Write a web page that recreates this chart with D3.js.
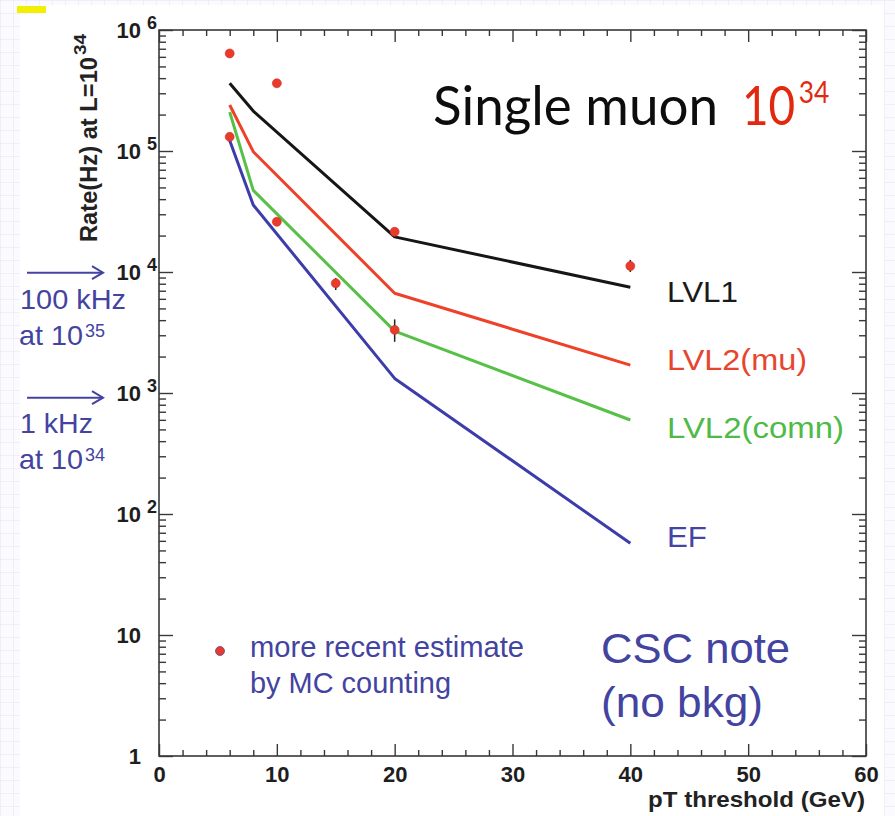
<!DOCTYPE html>
<html>
<head>
<meta charset="utf-8">
<script src="https://cdn.jsdelivr.net/npm/d3@7"></script>
<style>
  body { margin: 0; background: #fff; }
  svg { display: block; }
</style>
</head>
<body>
<svg id="chart" width="895" height="816"></svg>
<script>
// ---- data -------------------------------------------------------------
const xTickValues = [0, 10, 20, 30, 40, 50, 60];
const yDecades = [1, 10, 100, 1e3, 1e4, 1e5, 1e6];

// trigger-level rates (Hz) versus pT threshold (GeV)
const thresholds = [6, 8, 20, 40];
const rateLVL1 = [3.63e5, 2.14e5, 1.95e4, 7.48e3];
const rateLVL2mu = [2.40e5, 9.87e4, 6.67e3, 1.70e3];
const rateLVL2comn = [2.10e5, 4.73e4, 3.25e3, 598];
const rateEF = [1.22e5, 3.58e4, 1.32e3, 57.3];

const seriesNames = ["LVL1", "LVL2(mu)", "LVL2(comn)", "EF"];
const seriesColors = ["#161616", "#ee4128", "#56c146", "#3d3daa"];
const labelColors = ["#1a1a1a", "#e8452f", "#4fba48", "#4545a3"];

// newer estimates from MC counting, with error bars where shown
const estThreshold = [6, 6, 10, 10, 15, 20, 20, 40];
const estRate = [6.4e5, 1.31e5, 3.63e5, 2.6e4, 8.07e3, 2.15e4, 3.32e3, 1.12e4];
const estLow = [null, null, null, null, 7.1e3, null, 2.65e3, 1.0e4];
const estHigh = [null, null, null, null, 8.9e3, null, 4.06e3, 1.26e4];

// ---- layout -----------------------------------------------------------
const svg = d3.select("#chart");
const W = 895, H = 816;
const L = 159, R = 866, T = 30, B = 756;

const x = d3.scaleLinear().domain([0, 60]).range([L, R]);
const y = d3.scaleLog().domain([1, 1e6]).range([B, T]);

const axisColor = "#383838";
const axisFont = "'Liberation Sans', Arial, Helvetica, sans-serif";
const textFont = "'Liberation Sans', Arial, Helvetica, sans-serif";
const blueText = "#4343a0";

// slide background: faint graph-paper grid around the plot picture
const defs = svg.append("defs");
const pat = defs.append("pattern").attr("id", "paper")
  .attr("width", 13).attr("height", 13).attr("patternUnits", "userSpaceOnUse");
pat.append("path").attr("d", "M13 0 L0 0 L0 13").attr("fill", "none")
  .attr("stroke", "#e3e5ef").attr("stroke-width", 1);
svg.append("rect").attr("width", W).attr("height", H).attr("fill", "#fafaff");
svg.append("rect").attr("width", W).attr("height", H).attr("fill", "url(#paper)");
svg.append("rect").attr("x", 20).attr("y", 5).attr("width", 864).attr("height", H - 5).attr("fill", "#fff");
svg.append("rect").attr("x", 17).attr("y", 6).attr("width", 29).attr("height", 7).attr("fill", "#f3ef00");

// ---- axes -------------------------------------------------------------
function drawAxis(gen, transform) {
  const g = svg.append("g").attr("transform", transform).call(gen);
  g.select(".domain").remove();
  g.selectAll("line").attr("stroke", axisColor).attr("stroke-width", 1.4);
  return g;
}

const xMinor = d3.range(0, 61, 2).filter(v => v % 10 !== 0);
const yMinor = [];
for (let k = 0; k < 6; k++) for (let m = 2; m <= 9; m++) yMinor.push(m * Math.pow(10, k));

const gx = drawAxis(d3.axisBottom(x).tickValues(xTickValues).tickSize(-12).tickPadding(10)
  .tickFormat(d3.format("d")), `translate(0,${B})`);
gx.selectAll("text").attr("font-family", axisFont).attr("font-size", 22)
  .attr("font-weight", "bold").attr("fill", "#1e1e1e");
drawAxis(d3.axisBottom(x).tickValues(xMinor).tickSize(-6).tickFormat(""), `translate(0,${B})`);
drawAxis(d3.axisTop(x).tickValues(xTickValues).tickSize(-12).tickFormat(""), `translate(0,${T})`);
drawAxis(d3.axisTop(x).tickValues(xMinor).tickSize(-6).tickFormat(""), `translate(0,${T})`);

const gy = drawAxis(d3.axisLeft(y).tickValues(yDecades).tickSize(-14).tickFormat(""), `translate(${L},0)`);
drawAxis(d3.axisLeft(y).tickValues(yMinor).tickSize(-7).tickFormat(""), `translate(${L},0)`);
drawAxis(d3.axisRight(y).tickValues(yDecades).tickSize(-14).tickFormat(""), `translate(${R},0)`);
drawAxis(d3.axisRight(y).tickValues(yMinor).tickSize(-7).tickFormat(""), `translate(${R},0)`);

// decade labels: 1, 10, then 10 with a raised exponent
gy.selectAll(".tick").each(function (d) {
  const t = d3.select(this);
  const e = Math.round(Math.log10(d));
  t.append("text").attr("x", -18).attr("dy", "0.36em").attr("text-anchor", "end")
    .attr("font-family", axisFont).attr("font-size", 22).attr("font-weight", "bold")
    .attr("fill", "#1e1e1e").text(e <= 1 ? String(d) : "10");
  if (e > 1) {
    t.append("text").attr("x", -12).attr("y", -1.5).attr("text-anchor", "start")
      .attr("font-family", axisFont).attr("font-size", 18).attr("font-weight", "bold")
      .attr("fill", "#1e1e1e").text(String(e));
  }
});

// frame
svg.append("rect").attr("x", L).attr("y", T).attr("width", R - L).attr("height", B - T)
  .attr("fill", "none").attr("stroke", axisColor).attr("stroke-width", 1.6);

// axis titles
svg.append("text").attr("x", 865).attr("y", 807).attr("text-anchor", "end")
  .attr("font-family", axisFont).attr("font-size", 22).attr("font-weight", "bold")
  .attr("fill", "#222").attr("textLength", 217).attr("lengthAdjust", "spacingAndGlyphs")
  .text("pT threshold (GeV)");

const yt = svg.append("g").attr("transform", "translate(97,242) rotate(-90)");
yt.append("text").attr("x", 0).attr("y", 0).attr("font-family", axisFont)
  .attr("font-size", 23).attr("font-weight", "bold").attr("fill", "#222")
  .attr("textLength", 185).attr("lengthAdjust", "spacingAndGlyphs").text("Rate(Hz) at L=10");
yt.append("text").attr("x", 187).attr("y", -11).attr("font-family", axisFont)
  .attr("font-size", 16).attr("font-weight", "bold").attr("fill", "#222")
  .attr("textLength", 21).attr("lengthAdjust", "spacingAndGlyphs").text("34");

// ---- trigger rate curves ---------------------------------------------
const allSeries = [rateLVL1, rateLVL2mu, rateLVL2comn, rateEF];
const line = d3.line().x((d, i) => x(thresholds[i])).y(d => y(d));
const drawOrder = [3, 2, 1, 0];
drawOrder.forEach(s => {
  svg.append("path").datum(allSeries[s]).attr("d", line).attr("fill", "none")
    .attr("stroke", seriesColors[s]).attr("stroke-width", 3)
    .attr("stroke-linejoin", "round");
});

// series labels at the right end of the curves
const labelBaselines = [301.7, 369.5, 438.3, 546.7];
const labelWidths = [71, 140, 177, 40];
seriesNames.forEach((name, i) => {
  svg.append("text").attr("x", 667).attr("y", labelBaselines[i])
    .attr("font-family", textFont).attr("font-size", 30).attr("fill", labelColors[i])
    .attr("textLength", labelWidths[i]).attr("lengthAdjust", "spacingAndGlyphs").text(name);
});

// ---- MC-counting estimates -------------------------------------------
const est = estRate.map((r, i) => ({ x: estThreshold[i], r, lo: estLow[i], hi: estHigh[i] }));
svg.append("g").selectAll("line").data(est.filter(d => d.lo !== null)).join("line")
  .attr("x1", d => x(d.x)).attr("x2", d => x(d.x))
  .attr("y1", d => y(d.hi)).attr("y2", d => y(d.lo))
  .attr("stroke", "#222").attr("stroke-width", 1.5);
svg.append("g").selectAll("circle").data(est).join("circle")
  .attr("cx", d => x(d.x)).attr("cy", d => y(d.r)).attr("r", 4.5)
  .attr("fill", "#e93a2a").attr("stroke", "#d0302a").attr("stroke-width", 0.6);

// ---- annotations ------------------------------------------------------
// title
svg.append("text").attr("x", 433).attr("y", 125)
  .attr("font-family", "Lato, 'Noto Sans', sans-serif").attr("font-size", 55).attr("fill", "#0d0d0d")
  .attr("textLength", 285).attr("lengthAdjust", "spacingAndGlyphs").text("Single muon");
const lum = svg.append("text").attr("transform", "translate(742,125) scale(0.85,1)")
  .attr("font-family", "Lato, 'Noto Sans', sans-serif").attr("font-size", 54).attr("fill", "#e2290f");
lum.append("tspan").text("10");
lum.append("tspan").attr("font-size", 31).attr("dx", 4).attr("dy", -22).text("34");

// legend for the estimates
svg.append("circle").attr("cx", 220).attr("cy", 651).attr("r", 4.5)
  .attr("fill", "#e93a2a").attr("stroke", "#5a4aa0").attr("stroke-width", 0.8);
svg.append("text").attr("x", 250).attr("y", 657).attr("font-family", textFont)
  .attr("font-size", 29).attr("fill", blueText)
  .attr("textLength", 274).attr("lengthAdjust", "spacingAndGlyphs").text("more recent estimate");
svg.append("text").attr("x", 250).attr("y", 692.5).attr("font-family", textFont)
  .attr("font-size", 29).attr("fill", blueText)
  .attr("textLength", 201).attr("lengthAdjust", "spacingAndGlyphs").text("by MC counting");

svg.append("text").attr("x", 601).attr("y", 663).attr("font-family", textFont)
  .attr("font-size", 43).attr("fill", blueText)
  .attr("textLength", 189).attr("lengthAdjust", "spacingAndGlyphs").text("CSC note");
svg.append("text").attr("x", 601).attr("y", 716.5).attr("font-family", textFont)
  .attr("font-size", 43).attr("fill", blueText)
  .attr("textLength", 162).attr("lengthAdjust", "spacingAndGlyphs").text("(no bkg)");

// bandwidth arrows on the left
function arrow(yPos) {
  const g = svg.append("g").attr("stroke", blueText).attr("stroke-width", 2).attr("fill", "none");
  g.append("line").attr("x1", 27).attr("x2", 103).attr("y1", yPos).attr("y2", yPos);
  g.append("path").attr("d", `M92 ${yPos - 6.5} L103 ${yPos} L92 ${yPos + 6.5}`)
    .attr("stroke-linejoin", "miter");
}
arrow(y(1e4) + 0.7);
arrow(y(1e3) + 4.7);

function note(xPos, yPos, txt, len) {
  svg.append("text").attr("x", xPos).attr("y", yPos).attr("font-family", textFont)
    .attr("font-size", 28.5).attr("fill", blueText)
    .attr("textLength", len).attr("lengthAdjust", "spacingAndGlyphs").text(txt);
}
function sup(xPos, yPos, txt) {
  svg.append("text").attr("x", xPos).attr("y", yPos).attr("font-family", textFont)
    .attr("font-size", 18).attr("fill", blueText)
    .attr("textLength", 20).attr("lengthAdjust", "spacingAndGlyphs").text(txt);
}
note(20, 308.5, "100 kHz", 106);
note(19, 345, "at 10", 64);
sup(85, 337, "35");
note(20, 432.5, "1 kHz", 73);
note(19, 468.5, "at 10", 64);
sup(85, 460.5, "34");
</script>
</body>
</html>
